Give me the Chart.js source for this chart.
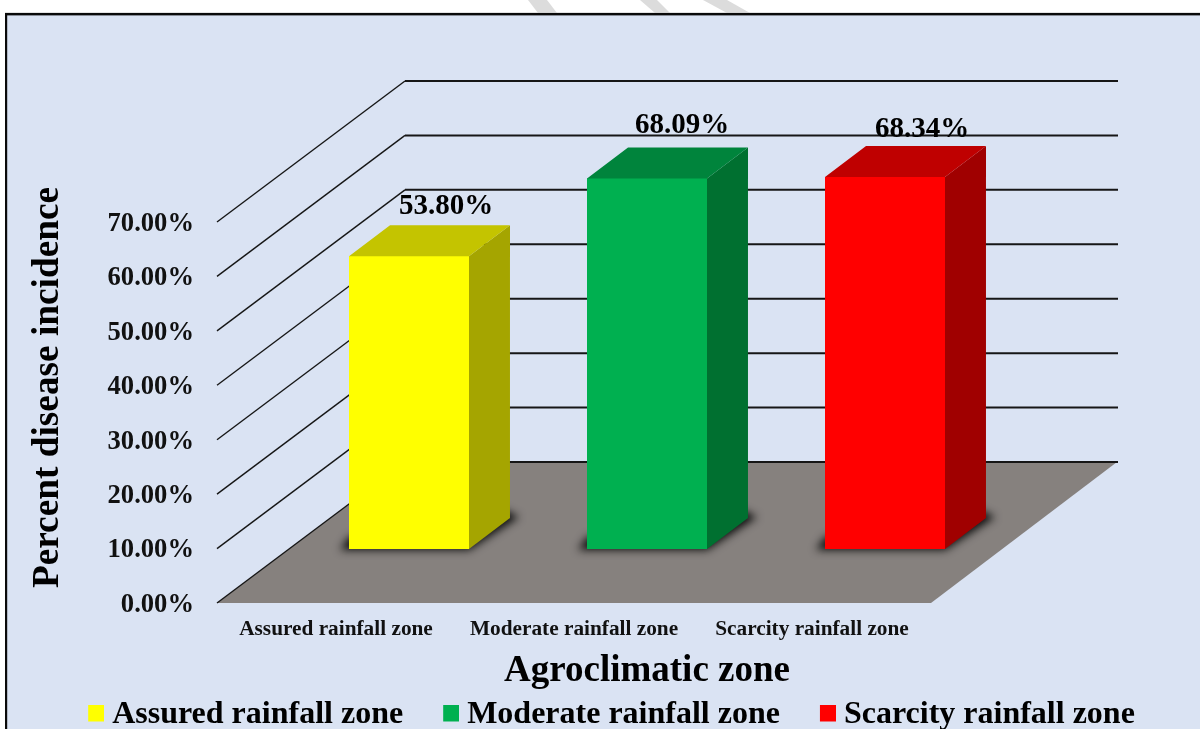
<!DOCTYPE html>
<html><head><meta charset="utf-8">
<style>html,body{margin:0;padding:0;background:#fff;overflow:hidden}canvas{display:block}</style>
<script src="https://cdn.jsdelivr.net/npm/chart.js@4"></script>
</head><body><canvas id="c" width="1200" height="729"></canvas>
<script>
const categories = ['Assured rainfall zone','Moderate rainfall zone','Scarcity rainfall zone'];
const values = [53.80, 68.09, 68.34];
const frontColors = ['#FFFF00','#00B050','#FF0000'];
const topColors = ['#C4C400','#00843C','#BF0000'];
const sideColors = ['#A5A500','#007030','#A00000'];
const yTicks = [0,10,20,30,40,50,60,70];
const yAxisTitle = 'Percent disease incidence';
const xAxisTitle = 'Agroclimatic zone';
const SERIF = '"Liberation Serif"';

// projection of the pseudo-3D box, in pixels
const FLOOR_FRONT = 54, FLOOR_SHIFT_X = 73, FLOOR_DX = 187, FLOOR_DY = 141;
const BAR_DX = 41, BAR_DY = 31;
const LABEL_SHIFT = [[37,-50],[35,-53],[37,-48]];

function swatch(color){
  const c = document.createElement('canvas'); c.width = 24; c.height = 21;
  const g = c.getContext('2d'); g.fillStyle = color; g.fillRect(8,0,16,17);
  return c;
}
function poly(ctx, pts, fill){
  ctx.beginPath(); pts.forEach((p,i)=> i?ctx.lineTo(p[0],p[1]):ctx.moveTo(p[0],p[1])); ctx.closePath();
  ctx.fillStyle = fill; ctx.fill();
}
const scene = {
  id:'scene',
  beforeDraw(chart){
    const ctx = chart.ctx;
    // centre the vertical axis title on the whole drawn height, floor included
    chart.scales.y.bottom = 607;
    ctx.save();
    ctx.fillStyle='#fff'; ctx.fillRect(0,0,1200,729);
    [[528,547,538,557],[640,657,655,670],[703,727,727,750]].forEach(b=>poly(ctx,[[b[0],0],[b[1],0],[b[3],13],[b[2],13]],'#DCDCDC'));
    ctx.fillStyle='#C8C8C8'; ctx.fillRect(5,12.5,1195,1);
    ctx.fillStyle='#DAE3F3'; ctx.fillRect(6,14,1194,715);
    ctx.fillStyle='#0A0A0A'; ctx.fillRect(5,13,1195,2.4); ctx.fillRect(5,13,2.2,716);
    ctx.restore();
  },
  beforeDatasetsDraw(chart){
    const ctx = chart.ctx, y = chart.scales.y, a = chart.chartArea;
    const fx0 = a.left - FLOOR_SHIFT_X, fx1 = a.right - FLOOR_SHIFT_X;
    const base = y.getPixelForValue(0) + FLOOR_FRONT;
    ctx.save();
    // floor
    const floor = [[fx0,base],[fx1,base],[fx1+FLOOR_DX-1,base-FLOOR_DY],[fx0+FLOOR_DX+1,base-FLOOR_DY]];
    poly(ctx,floor,'#86817E');
    // walls
    yTicks.forEach(v=>{
      const py = y.getPixelForValue(v) + FLOOR_FRONT;
      ctx.strokeStyle = '#161616';
      ctx.lineWidth = 1.4;
      ctx.beginPath(); ctx.moveTo(fx0,py); ctx.lineTo(fx0+FLOOR_DX+1,py-FLOOR_DY); ctx.stroke();
      ctx.lineWidth = 2;
      ctx.beginPath(); ctx.moveTo(fx0+FLOOR_DX+1,py-FLOOR_DY); ctx.lineTo(1118,py-FLOOR_DY); ctx.stroke();
    });
    // soft contact shadows on the floor
    ctx.save();
    poly(ctx,floor,'rgba(0,0,0,0)'); ctx.clip();
    chart.getDatasetMeta(0).data.forEach(el=>{
      const l = el.x - el.width/2, r = el.x + el.width/2, b = el.base, off = 3000;
      ctx.save();
      ctx.shadowColor='rgba(15,15,15,1)'; ctx.shadowBlur=8; ctx.shadowOffsetX=off;
      poly(ctx,[[l-9-off,b+1],[r-off,b+1],[r+BAR_DX+9-off,b-BAR_DY-1],[r+BAR_DX-6-off,b-BAR_DY-8],[l-off,b-12]],'#000');
      ctx.restore();
    });
    ctx.restore();
    // side and top faces
    chart.getDatasetMeta(0).data.forEach((el,i)=>{
      const l = el.x - el.width/2, r = el.x + el.width/2, t = el.y, b = el.base;
      poly(ctx,[[l,t+1],[r,t+1],[r,b],[l,b]],frontColors[i]);
      poly(ctx,[[r,t],[r+BAR_DX,t-BAR_DY],[r+BAR_DX,b-BAR_DY],[r,b]],sideColors[i]);
      poly(ctx,[[l,t+1],[l,t],[l+BAR_DX,t-BAR_DY],[r+BAR_DX,t-BAR_DY],[r,t],[r,t+1]],topColors[i]);
    });
    ctx.restore();
  },
  afterDatasetsDraw(chart){
    const ctx = chart.ctx;
    ctx.save();
    ctx.fillStyle='#000'; ctx.font='bold 29px '+SERIF; ctx.textAlign='center'; ctx.textBaseline='middle';
    chart.getDatasetMeta(0).data.forEach((el,i)=>{
      ctx.fillText(values[i].toFixed(2)+'%', el.x+LABEL_SHIFT[i][0], el.y+LABEL_SHIFT[i][1]);
    });
    ctx.restore();
  }
};
new Chart(document.getElementById('c'),{
  type:'bar',
  data:{labels:categories,datasets:[{data:values,backgroundColor:frontColors,borderWidth:0,barPercentage:0.504,categoryPercentage:1}]},
  plugins:[scene],
  options:{
    responsive:false,animation:false,devicePixelRatio:1,
    layout:{padding:{top:168,left:23,right:0,bottom:-12}},
    plugins:{
      tooltip:{enabled:false},
      legend:{position:'bottom',align:'center',
        labels:{
          color:'#000',font:{family:SERIF,weight:'bold',size:32},padding:40,
          usePointStyle:true,pointStyleWidth:8,boxHeight:16,
          generateLabels(){return categories.map((t,i)=>({text:t,fillStyle:frontColors[i],strokeStyle:frontColors[i],lineWidth:0,pointStyle:swatch(frontColors[i]),fontColor:'#000',index:i}));}
        }}
    },
    scales:{
      x:{
        grid:{display:false},border:{display:false},
        ticks:{color:'#111',font:{family:SERIF,weight:'bold',size:21.3},labelOffset:-FLOOR_SHIFT_X,padding:60,maxRotation:0,autoSkip:false},
        title:{display:true,text:xAxisTitle,color:'#000',font:{family:SERIF,weight:'bold',size:37},padding:{top:0,bottom:-35}},
        afterFit(s){s.height=110;}
      },
      y:{
        min:0,max:70,grid:{display:false},border:{display:false},
        afterBuildTicks(s){s.ticks=yTicks.map(v=>({value:v}));},
        ticks:{color:'#111',font:{family:SERIF,weight:'bold',size:26.6},labelOffset:FLOOR_FRONT+2,padding:88,autoSkip:false,
          callback:v=>Number(v).toFixed(2)+'%'},
        title:{display:true,text:yAxisTitle,color:'#000',font:{family:SERIF,weight:'bold',size:37.3},padding:{top:3,bottom:0}},
        afterFit(s){s.width=267;}
      },
      y2:{
        position:'right',min:0,max:70,grid:{display:false},border:{display:false},ticks:{display:false},
        afterFit(s){s.width=196;}
      }
    }
  }
});
</script></body></html>
